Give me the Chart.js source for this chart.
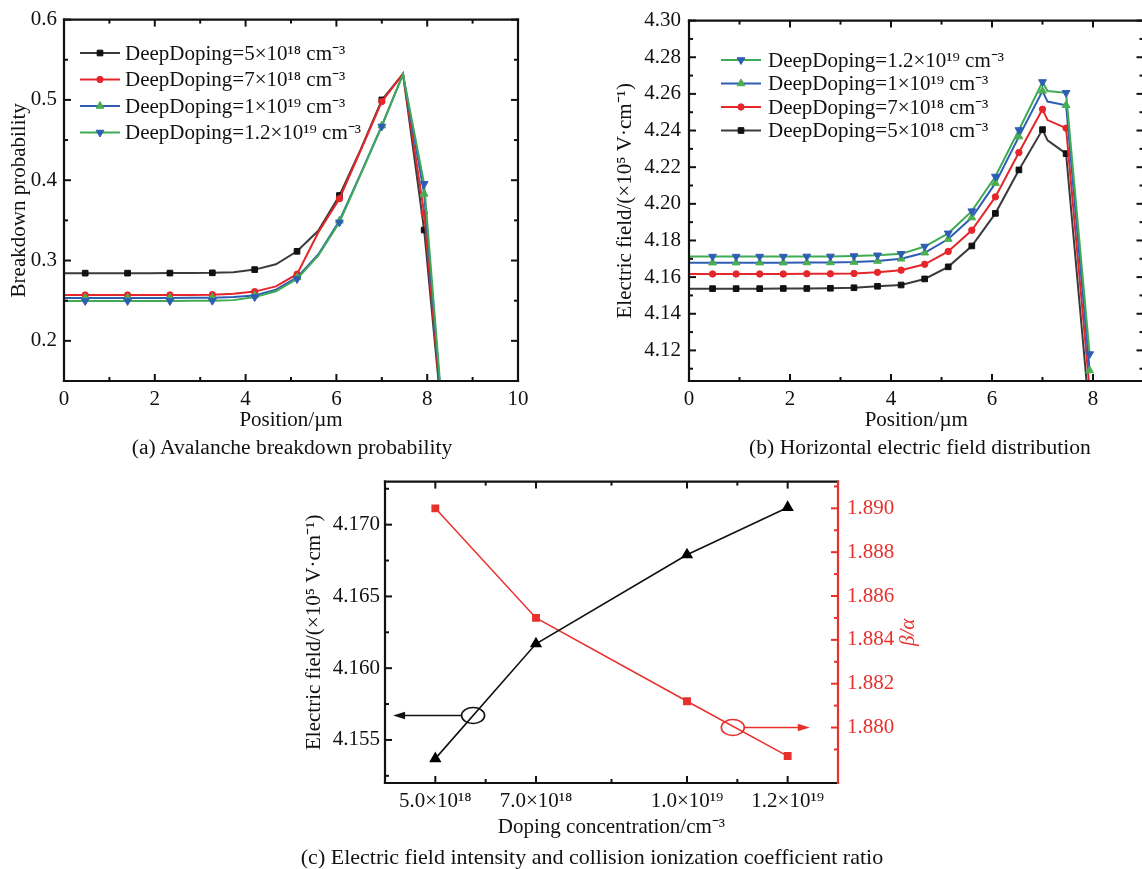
<!DOCTYPE html>
<html lang="en">
<head>
<meta charset="UTF-8">
<title>Deep doping: breakdown probability and electric field</title>
<script src="https://cdn.jsdelivr.net/npm/chart.js"></script>
<style>
  body { margin: 0; background: #fff; }
  #figure { position: relative; width: 1142px; height: 869px; overflow: hidden; background: #fff;
            font-family: "Liberation Serif", "Times New Roman", serif; }
  #figure canvas { position: absolute; }
  .caption { position: absolute; width: 640px; text-align: center; font-size: 21.6px; line-height: 24px;
             color: #111; white-space: nowrap; }
</style>
</head>
<body>
<div id="figure">
  <canvas id="chartA" width="560" height="460" style="left:0;top:0;width:560px;height:460px"></canvas>
  <canvas id="chartB" width="590" height="460" style="left:560px;top:0;width:590px;height:460px"></canvas>
  <canvas id="chartC" width="640" height="409" style="left:290px;top:460px;width:640px;height:409px"></canvas>
  <div class="caption" style="left:-28px;top:435px">(a) Avalanche breakdown probability</div>
  <div class="caption" style="left:600px;top:435px">(b) Horizontal electric field distribution</div>
  <div class="caption" style="left:272px;top:845px;font-size:22px">(c) Electric field intensity and collision ionization coefficient ratio</div>
</div>

<script>
    // ---- data ----
    const seriesLabels = [
        'DeepDoping=5×10¹⁸ cm⁻³',
        'DeepDoping=7×10¹⁸ cm⁻³',
        'DeepDoping=1×10¹⁹ cm⁻³',
        'DeepDoping=1.2×10¹⁹ cm⁻³'
    ];

    // (a) breakdown probability vs position (µm)
    const positionA = [0, 0.467, 0.933, 1.4, 1.867, 2.333, 2.8, 3.267, 3.733, 4.2, 4.667, 5.133, 5.6, 6.067, 6.533, 7.0, 7.467, 7.933, 8.4];
    const probA5e18  = [0.2843, 0.2843, 0.2843, 0.2843, 0.2843, 0.2844, 0.2845, 0.2847, 0.2855, 0.2887, 0.2953, 0.3115, 0.337, 0.381, 0.438, 0.500, 0.5325, 0.338, 0.06];
    const probA7e18  = [0.2570, 0.2570, 0.2570, 0.2570, 0.2570, 0.2571, 0.2572, 0.2575, 0.2585, 0.2613, 0.2678, 0.283, 0.335, 0.377, 0.437, 0.498, 0.5325, 0.359, 0.06];
    const probA1e19  = [0.2535, 0.2535, 0.2535, 0.2535, 0.2535, 0.2535, 0.2536, 0.2538, 0.2545, 0.2565, 0.2638, 0.279, 0.3075, 0.3495, 0.408, 0.468, 0.532, 0.383, 0.06];
    const probA12e19 = [0.2497, 0.2497, 0.2497, 0.2497, 0.2497, 0.2497, 0.2498, 0.2500, 0.2507, 0.2545, 0.2617, 0.277, 0.306, 0.3475, 0.407, 0.467, 0.532, 0.3955, 0.065];

    // (b) horizontal electric field (×10^5 V/cm) vs position (µm)
    const positionB = [0, 0.467, 0.933, 1.4, 1.867, 2.333, 2.8, 3.267, 3.733, 4.2, 4.667, 5.133, 5.6, 6.067, 6.533, 7.0, 7.1, 7.467, 7.933];
    const fieldB5e18  = [4.1537, 4.1537, 4.1537, 4.1537, 4.1538, 4.1538, 4.1539, 4.1542, 4.1550, 4.1557, 4.1590, 4.1656, 4.1770, 4.1948, 4.2185, 4.2405, 4.2346, 4.2274, 4.0845];
    const fieldB7e18  = [4.1617, 4.1617, 4.1617, 4.1617, 4.1617, 4.1618, 4.1618, 4.1620, 4.1626, 4.1638, 4.1670, 4.1740, 4.1856, 4.2038, 4.2280, 4.2516, 4.2457, 4.2413, 4.0985];
    const fieldB1e19  = [4.1679, 4.1679, 4.1679, 4.1679, 4.1679, 4.1680, 4.1680, 4.1682, 4.1688, 4.1700, 4.1733, 4.1808, 4.1925, 4.2113, 4.2367, 4.2616, 4.2558, 4.2538, 4.1090];
    const fieldB12e19 = [4.1712, 4.1712, 4.1712, 4.1712, 4.1712, 4.1713, 4.1713, 4.1715, 4.1719, 4.1727, 4.1767, 4.1839, 4.1960, 4.2149, 4.2403, 4.2665, 4.2616, 4.2606, 4.1180];

    // (c) plateau field and β/α vs doping (×10^18 cm^-3)
    const dopingC = [5, 7, 10, 12];
    const fieldC  = [4.1537, 4.1617, 4.1679, 4.1712];
    const ratioC  = [1.8900, 1.8850, 1.8812, 1.8787];

    // tick values / labels
    const xTicksA = [0, 2, 4, 6, 8, 10];
    const yTicksA = [0.2, 0.3, 0.4, 0.5, 0.6];
    const xTicksB = [0, 2, 4, 6, 8];
    const yTicksB = [4.12, 4.14, 4.16, 4.18, 4.20, 4.22, 4.24, 4.26, 4.28, 4.30];
    const xTicksC = [5, 7, 10, 12];
    const xTickLabelsC = ['5.0×10¹⁸', '7.0×10¹⁸', '1.0×10¹⁹', '1.2×10¹⁹'];
    const yTicksC = [4.155, 4.160, 4.165, 4.170];
    const y1TicksC = [1.880, 1.882, 1.884, 1.886, 1.888, 1.890];

    // ---- look ----
    const FONT = '"Liberation Serif", "Times New Roman", serif';
    const RED = '#e8302c';
    Chart.defaults.font.family = FONT;
    Chart.defaults.font.size = 21;
    Chart.defaults.color = '#111';
    Chart.defaults.animation = false;
    Chart.defaults.plugins.legend.display = false;
    Chart.defaults.plugins.tooltip.enabled = false;

    const styles = [
        { line: '#3b3b3b', mark: '#111111', shape: 'rect', radius: 4, rotation: 0 },
        { line: '#e5262b', mark: '#e5262b', shape: 'circle', radius: 3.2, rotation: 0 },
        { line: '#2f5db5', mark: '#4aae50', shape: 'triangle', radius: 4.5, rotation: 0 },
        { line: '#3fab55', mark: '#2f5db5', shape: 'triangle', radius: 4.5, rotation: 180 }
    ];

    function lineSet(i, xs, ys, showMark) {
        const s = styles[i];
        return {
            label: seriesLabels[i],
            data: xs.map((x, k) => ({ x: x, y: ys[k] })),
            borderColor: s.line,
            borderWidth: 2,
            pointStyle: s.shape,
            pointRotation: s.rotation,
            pointBackgroundColor: s.mark,
            pointBorderColor: s.mark,
            pointBorderWidth: 1,
            pointRadius: ctx => showMark(ctx.dataIndex) ? s.radius : 0,
            markRadius: s.radius,
            tension: 0,
            order: 3 - i
        };
    }

    function fixedTicks(values) {
        return scale => { scale.ticks = values.map(v => ({ value: v })); };
    }

    function minorTicks(major, min, max) {
        const out = [];
        for (let i = 1; i < major.length; i++) out.push((major[i - 1] + major[i]) / 2);
        const n = major.length;
        const lo = major[0] - (major[1] - major[0]) / 2;
        const hi = major[n - 1] + (major[n - 1] - major[n - 2]) / 2;
        if (lo > min) out.push(lo);
        if (hi < max) out.push(hi);
        return out;
    }

    // box round the plot with inward ticks on every side
    const framePlugin = {
        id: 'frame',
        afterDatasetsDraw(chart, args, o) {
            const { ctx, chartArea: a } = chart;
            ctx.save();
            Object.keys(o.sides || {}).forEach(side => {
                const s = chart.scales[o.sides[side].scale];
                const major = s.ticks.map(t => t.value);
                const minor = minorTicks(major, s.min, s.max);
                ctx.strokeStyle = o.sides[side].color;
                ctx.lineWidth = 2;
                ctx.lineCap = 'butt';
                const mark = (v, len) => {
                    const p = s.getPixelForValue(v);
                    ctx.beginPath();
                    if (side === 'left')   { ctx.moveTo(a.left, p);  ctx.lineTo(a.left + len, p); }
                    if (side === 'right')  { ctx.moveTo(a.right, p); ctx.lineTo(a.right - len, p); }
                    if (side === 'top')    { ctx.moveTo(p, a.top);    ctx.lineTo(p, a.top + len); }
                    if (side === 'bottom') { ctx.moveTo(p, a.bottom); ctx.lineTo(p, a.bottom - len); }
                    ctx.stroke();
                };
                major.forEach(v => mark(v, 7));
                minor.forEach(v => mark(v, 4));
                ctx.lineWidth = 2.2;
                ctx.lineCap = 'square';
                ctx.beginPath();
                if (side === 'left')   { ctx.moveTo(a.left, a.top);     ctx.lineTo(a.left, a.bottom); }
                if (side === 'right')  { ctx.moveTo(a.right, a.top);    ctx.lineTo(a.right, a.bottom); }
                if (side === 'top')    { ctx.moveTo(a.left, a.top);     ctx.lineTo(a.right, a.top); }
                if (side === 'bottom') { ctx.moveTo(a.left, a.bottom);  ctx.lineTo(a.right, a.bottom); }
                ctx.stroke();
            });
            ctx.restore();
        }
    };

    // Origin-like legend: line sample with the marker in its middle
    const legendPlugin = {
        id: 'lineLegend',
        afterDatasetsDraw(chart, args, o) {
            if (!o.items) return;
            const ctx = chart.ctx;
            ctx.save();
            ctx.font = '21px ' + FONT;
            ctx.textBaseline = 'middle';
            o.items.forEach((di, row) => {
                const ds = chart.data.datasets[di];
                const y = o.y + row * o.step;
                ctx.strokeStyle = ds.borderColor;
                ctx.lineWidth = 2;
                ctx.beginPath();
                ctx.moveTo(o.x, y);
                ctx.lineTo(o.x + o.len, y);
                ctx.stroke();
                ctx.fillStyle = ds.pointBackgroundColor;
                ctx.strokeStyle = ds.pointBorderColor;
                ctx.lineWidth = 1;
                Chart.helpers.drawPoint(ctx, {
                    pointStyle: ds.pointStyle, rotation: ds.pointRotation,
                    radius: ds.markRadius, borderWidth: 1
                }, o.x + o.len / 2, y);
                ctx.fillStyle = '#111';
                ctx.fillText(ds.label, o.x + o.len + o.gap, y + 1);
            });
            ctx.restore();
        }
    };

    // circled-and-arrowed hints in (c) plus the rotated β/α title
    const calloutPlugin = {
        id: 'callouts',
        afterDatasetsDraw(chart, args, o) {
            if (!o.items) return;
            const ctx = chart.ctx;
            ctx.save();
            o.items.forEach(c => {
                const cx = chart.scales.x.getPixelForValue(c.x);
                const cy = chart.scales[c.axis].getPixelForValue(c.y);
                const tip = chart.scales.x.getPixelForValue(c.to);
                const dir = Math.sign(tip - cx);
                ctx.strokeStyle = c.color;
                ctx.fillStyle = c.color;
                ctx.lineWidth = 1.6;
                ctx.beginPath();
                ctx.ellipse(cx, cy, 11.5, 8, 0, 0, Math.PI * 2);
                ctx.stroke();
                ctx.beginPath();
                ctx.moveTo(cx + dir * 11.5, cy);
                ctx.lineTo(tip - dir * 9, cy);
                ctx.stroke();
                ctx.beginPath();
                ctx.moveTo(tip, cy);
                ctx.lineTo(tip - dir * 12, cy - 3.8);
                ctx.lineTo(tip - dir * 12, cy + 3.8);
                ctx.closePath();
                ctx.fill();
            });
            if (o.rightTitle) {
                const s = chart.scales.y1;
                ctx.translate(s.left + o.rightTitle.offset, (s.top + s.bottom) / 2);
                ctx.rotate(-Math.PI / 2);
                ctx.font = 'italic 21px ' + FONT;
                ctx.fillStyle = RED;
                ctx.textAlign = 'center';
                ctx.textBaseline = 'middle';
                ctx.fillText(o.rightTitle.text, 0, 0);
            }
            ctx.restore();
        }
    };

    const plainGrid = { display: false, drawTicks: false };
    const noBorder = { display: false };

    // ---- (a) ----
    new Chart(document.getElementById('chartA'), {
        type: 'line',
        data: {
            datasets: [
                lineSet(0, positionA, probA5e18, k => k % 2 === 1),
                lineSet(1, positionA, probA7e18, k => k % 2 === 1),
                lineSet(2, positionA, probA1e19, k => k % 2 === 1),
                lineSet(3, positionA, probA12e19, k => k % 2 === 1)
            ]
        },
        options: {
            responsive: false,
            layout: { padding: { top: 15, right: 42, bottom: 0, left: 0 } },
            scales: {
                x: {
                    type: 'linear', min: 0, max: 10,
                    afterBuildTicks: fixedTicks(xTicksA),
                    afterFit: s => { s.height = 79; },
                    grid: plainGrid, border: noBorder,
                    ticks: { padding: 6, autoSkip: false, maxRotation: 0, callback: v => v },
                    title: { display: true, text: 'Position/µm', padding: { top: 0, bottom: 27 } }
                },
                y: {
                    min: 0.15, max: 0.6,
                    afterBuildTicks: fixedTicks(yTicksA),
                    afterFit: s => { s.width = 64; },
                    grid: plainGrid, border: noBorder,
                    ticks: { padding: 7, callback: v => v.toFixed(1) },
                    title: { display: true, text: 'Breakdown probability', padding: { top: 7, bottom: 0 } }
                }
            },
            plugins: {
                frame: { sides: {
                    left: { scale: 'y', color: '#111' }, right: { scale: 'y', color: '#111' },
                    top: { scale: 'x', color: '#111' }, bottom: { scale: 'x', color: '#111' } } },
                lineLegend: { items: [0, 1, 2, 3], x: 80, y: 53, step: 26.5, len: 40, gap: 5 }
            }
        },
        plugins: [framePlugin, legendPlugin]
    });

    // ---- (b) ----
    new Chart(document.getElementById('chartB'), {
        type: 'line',
        data: {
            datasets: [
                lineSet(0, positionB, fieldB5e18, k => k > 0 && positionB[k] !== 7.1),
                lineSet(1, positionB, fieldB7e18, k => k > 0 && positionB[k] !== 7.1),
                lineSet(2, positionB, fieldB1e19, k => k > 0 && positionB[k] !== 7.1),
                lineSet(3, positionB, fieldB12e19, k => k > 0 && positionB[k] !== 7.1)
            ]
        },
        options: {
            responsive: false,
            layout: { padding: { top: 15, right: 6.5, bottom: 0, left: 0 } },
            scales: {
                x: {
                    type: 'linear', min: 0, max: 9,
                    afterBuildTicks: fixedTicks(xTicksB),
                    afterFit: s => { s.height = 79; },
                    grid: plainGrid, border: noBorder,
                    ticks: { padding: 6, autoSkip: false, maxRotation: 0, callback: v => v },
                    title: { display: true, text: 'Position/µm', padding: { top: 0, bottom: 27 } }
                },
                y: {
                    min: 4.1033, max: 4.30,
                    afterBuildTicks: fixedTicks(yTicksB),
                    afterFit: s => { s.width = 129; },
                    grid: plainGrid, border: noBorder,
                    ticks: { padding: 8, callback: v => v.toFixed(2) },
                    title: { display: true, text: 'Electric field/(×10⁵ V·cm⁻¹)', padding: { top: 53, bottom: 0 } }
                }
            },
            plugins: {
                frame: { sides: {
                    left: { scale: 'y', color: '#111' }, right: { scale: 'y', color: '#111' },
                    top: { scale: 'x', color: '#111' }, bottom: { scale: 'x', color: '#111' } } },
                lineLegend: { items: [3, 2, 1, 0], x: 161, y: 60, step: 23.5, len: 40, gap: 7 }
            }
        },
        plugins: [framePlugin, legendPlugin]
    });

    // ---- (c) ----
    new Chart(document.getElementById('chartC'), {
        type: 'line',
        data: {
            datasets: [
                {
                    label: 'Electric field',
                    data: dopingC.map((x, k) => ({ x: x, y: fieldC[k] })),
                    yAxisID: 'y',
                    borderColor: '#111', borderWidth: 1.6,
                    pointStyle: 'triangle', pointRadius: 5.5,
                    pointBackgroundColor: '#000', pointBorderColor: '#000',
                    tension: 0
                },
                {
                    label: 'β/α',
                    data: dopingC.map((x, k) => ({ x: x, y: ratioC[k] })),
                    yAxisID: 'y1',
                    borderColor: RED, borderWidth: 1.5,
                    pointStyle: 'rect', pointRadius: 4.5,
                    pointBackgroundColor: RED, pointBorderColor: RED,
                    tension: 0
                }
            ]
        },
        options: {
            responsive: false,
            layout: { padding: { top: 19, right: 0, bottom: 0, left: 0 } },
            scales: {
                x: {
                    type: 'linear', min: 4, max: 13,
                    afterBuildTicks: fixedTicks(xTicksC),
                    afterFit: s => { s.height = 86; },
                    grid: plainGrid, border: noBorder,
                    ticks: { padding: 6, autoSkip: false, maxRotation: 0,
                             callback: v => xTickLabelsC[xTicksC.indexOf(v)] },
                    title: { display: true, text: 'Doping concentration/cm⁻³', padding: { top: 0, bottom: 29 } }
                },
                y: {
                    position: 'left',
                    min: 4.152, max: 4.173,
                    afterBuildTicks: fixedTicks(yTicksC),
                    afterFit: s => { s.width = 95; },
                    grid: plainGrid, border: noBorder,
                    ticks: { padding: 5, callback: v => v.toFixed(3) },
                    title: { display: true, text: 'Electric field/(×10⁵ V·cm⁻¹)', padding: { top: 12, bottom: 0 } }
                },
                y1: {
                    position: 'right',
                    min: 1.87747, max: 1.89122,
                    afterBuildTicks: fixedTicks(y1TicksC),
                    afterFit: s => { s.width = 92; },
                    grid: plainGrid, border: noBorder,
                    ticks: { padding: 9, color: RED, callback: v => v.toFixed(3) }
                }
            },
            plugins: {
                frame: { sides: {
                    left: { scale: 'y', color: '#111' },
                    top: { scale: 'x', color: '#111' }, bottom: { scale: 'x', color: '#111' },
                    right: { scale: 'y1', color: RED } } },
                callouts: {
                    items: [
                        { axis: 'y', x: 5.75, y: 4.1567, to: 4.16, color: '#111' },
                        { axis: 'y1', x: 10.91, y: 1.8800, to: 12.44, color: RED }
                    ],
                    rightTitle: { text: 'β/α', offset: 70 }
                }
            }
        },
        plugins: [framePlugin, calloutPlugin]
    });
</script>
</body>
</html>
